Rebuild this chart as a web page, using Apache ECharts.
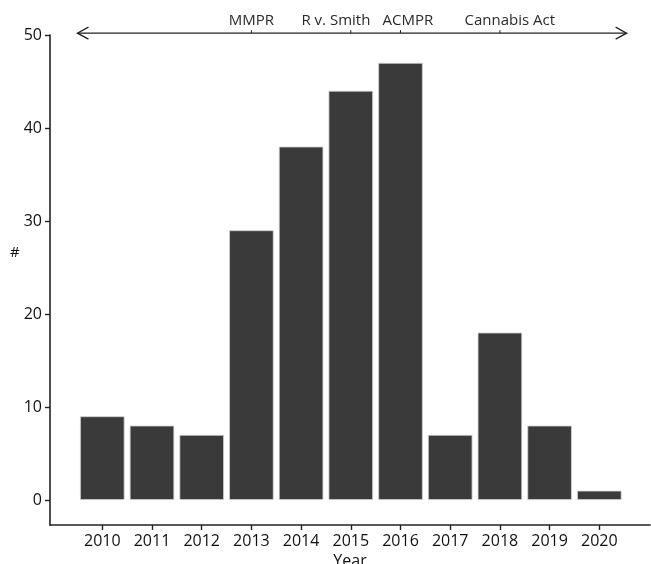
<!DOCTYPE html>
<html>
<head>
<meta charset="utf-8">
<script src="https://cdn.jsdelivr.net/npm/echarts@6/dist/echarts.min.js"></script>
<style>
html,body{margin:0;padding:0;background:#fff;}
#chart{width:651px;height:564px;}
</style>
</head>
<body>
<div id="chart"></div>
<script>
const years = [2010, 2011, 2012, 2013, 2014, 2015, 2016, 2017, 2018, 2019, 2020];
const counts = [9, 8, 7, 29, 38, 44, 47, 7, 18, 8, 1];
const yTicks = [0, 10, 20, 30, 40, 50];
const events = ['MMPR', 'R v. Smith', 'ACMPR', 'Cannabis Act'];
const eventYears = [2013, 2015, 2016, 2018];
const eventLabelX = [2013.0, 2014.7, 2016.15, 2018.2];
const arrowSpan = [2009.5, 2020.55];
const arrowLevel = 50.2;
const xTitle = 'Year';
const yTitle = '#';

const FONT = 'Open Sans';
const chart = echarts.init(document.getElementById('chart'), null, {renderer: 'canvas'});

const option = {
  animation: false,
  backgroundColor: '#ffffff',
  grid: {left: 50, right: 1, top: 35, bottom: 39, containLabel: false, outerBoundsMode: 'none'},
  graphic: [{
    type: 'text', left: 10, top: 245,
    style: {text: yTitle, fontFamily: FONT, fontSize: 15, fill: '#111'}
  }],
  xAxis: {
    type: 'value',
    min: 2008.948,
    max: 2021.02,
    name: xTitle,
    nameLocation: 'middle',
    nameGap: 22,
    nameTextStyle: {fontFamily: FONT, fontSize: 16, color: '#111'},
    splitLine: {show: false},
    axisLine: {show: true, onZero: false, lineStyle: {color: '#222', width: 1.6}},
    axisTick: {show: true, length: 5, customValues: years, lineStyle: {color: '#222', width: 1.4}},
    axisLabel: {
      customValues: years, margin: 8,
      fontFamily: FONT, fontSize: 16, color: '#111',
      formatter: v => String(v)
    }
  },
  yAxis: {
    type: 'value',
    min: -2.69,
    max: 50,
    splitLine: {show: false},
    axisLine: {show: true, onZero: false, lineStyle: {color: '#222', width: 1.6}},
    axisTick: {show: true, length: 5, customValues: yTicks, lineStyle: {color: '#222', width: 1.4}},
    axisLabel: {
      customValues: yTicks, margin: 8,
      fontFamily: FONT, fontSize: 16, color: '#111'
    }
  },
  series: [
    {
      type: 'bar',
      data: years.map((y, i) => [y, counts[i]]),
      barWidth: 44.5,
      itemStyle: {color: '#3a3a3a', borderColor: '#d0d0d0', borderWidth: 0.8}
    },
    {
      type: 'custom',
      clip: false,
      silent: true,
      data: [[arrowSpan[0], arrowSpan[1], arrowLevel]],
      renderItem: function (params, api) {
        const p1 = api.coord([api.value(0), api.value(2)]);
        const p2 = api.coord([api.value(1), api.value(2)]);
        const ah = 11, aw = 6;
        const style = {stroke: '#222', lineWidth: 1.3, fill: null};
        const children = [
          {type: 'line', shape: {x1: p1[0], y1: p1[1], x2: p2[0], y2: p2[1]}, style: style},
          {type: 'polyline', shape: {points: [[p1[0] + ah, p1[1] - aw], [p1[0], p1[1]], [p1[0] + ah, p1[1] + aw]]}, style: style},
          {type: 'polyline', shape: {points: [[p2[0] - ah, p2[1] - aw], [p2[0], p2[1]], [p2[0] - ah, p2[1] + aw]]}, style: style}
        ];
        eventYears.forEach(function (ey) {
          const t = api.coord([ey, api.value(2)]);
          children.push({type: 'line', shape: {x1: t[0], y1: t[1], x2: t[0], y2: t[1] - 3}, style: {stroke: '#222', lineWidth: 1}});
        });
        return {type: 'group', children: children};
      }
    },
    {
      type: 'custom',
      clip: false,
      silent: true,
      data: events.map((e, i) => [eventLabelX[i], arrowLevel, e]),
      renderItem: function (params, api) {
        const p = api.coord([api.value(0), api.value(1)]);
        return {
          type: 'text',
          x: p[0], y: p[1] - 12,
          style: {
            text: events[params.dataIndex],
            fontFamily: FONT, fontSize: 15, fill: '#2a2a2a',
            align: 'center', verticalAlign: 'middle'
          }
        };
      }
    }
  ]
};
chart.setOption(option);
</script>
</body>
</html>
